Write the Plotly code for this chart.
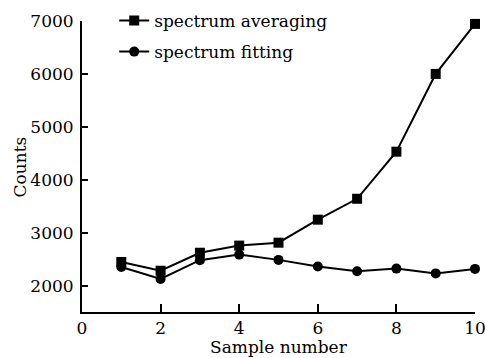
import plotly.graph_objects as go

sample = [1, 2, 3, 4, 5, 6, 7, 8, 9, 10]
averaging = [2445, 2280, 2620, 2755, 2810, 3245, 3640, 4530, 6000, 6945]
fitting = [2350, 2125, 2480, 2585, 2485, 2360, 2270, 2320, 2230, 2315]
x_ticks = [0, 2, 4, 6, 8, 10]
y_ticks = [2000, 3000, 4000, 5000, 6000, 7000]

FONT = "DejaVu Serif"
FS = 17

fig = go.Figure()
fig.add_trace(go.Scatter(x=sample, y=averaging, mode="lines+markers", name="spectrum averaging",
                         legendgroup="a", cliponaxis=False,
                         line=dict(color="black", width=2),
                         marker=dict(symbol="square", size=10, color="black")))
fig.add_trace(go.Scatter(x=sample, y=fitting, mode="lines+markers", name="spectrum fitting",
                         legendgroup="b", cliponaxis=False,
                         line=dict(color="black", width=2),
                         marker=dict(symbol="circle", size=10, color="black")))

fig.update_layout(
    width=485, height=358,
    margin=dict(l=82, r=10, t=21, b=46, autoexpand=False),
    plot_bgcolor="white", paper_bgcolor="white",
    font=dict(family=FONT, size=FS, color="black"),
    showlegend=True,
    legend=dict(x=0.082, y=1.062, xanchor="left", yanchor="top",
                bgcolor="rgba(0,0,0,0)", font=dict(size=FS, family=FONT),
                tracegroupgap=6, itemwidth=30),
    xaxis=dict(range=[0, 10], tickvals=x_ticks, ticktext=[str(v) for v in x_ticks],
               ticks="inside", ticklen=8, tickwidth=1.5, tickcolor="black",
               showline=True, linecolor="black", linewidth=2, mirror=False,
               showgrid=False, zeroline=False, automargin=False,
               ticklabeloverflow="allow"),
    yaxis=dict(range=[1500, 7000], tickvals=y_ticks, ticktext=[str(v) for v in y_ticks],
               ticks="inside", ticklen=6, tickwidth=1.5, tickcolor="black",
               showline=True, linecolor="black", linewidth=2, mirror=False,
               showgrid=False, zeroline=False, automargin=False,
               ticklabelstandoff=3, ticklabeloverflow="allow"),
    annotations=[
        dict(text="Sample number", xref="paper", yref="paper", x=0.5, y=-0.12,
             xanchor="center", yanchor="middle", showarrow=False, font=dict(size=FS)),
        dict(text="Counts", xref="paper", yref="paper", x=-0.158, y=0.5,
             xanchor="center", yanchor="middle", textangle=-90, showarrow=False,
             font=dict(size=FS)),
    ],
)

fig.write_html("out.html", config={"displayModeBar": False},
               post_script="document.body.style.margin='0';document.body.style.padding='0';")
